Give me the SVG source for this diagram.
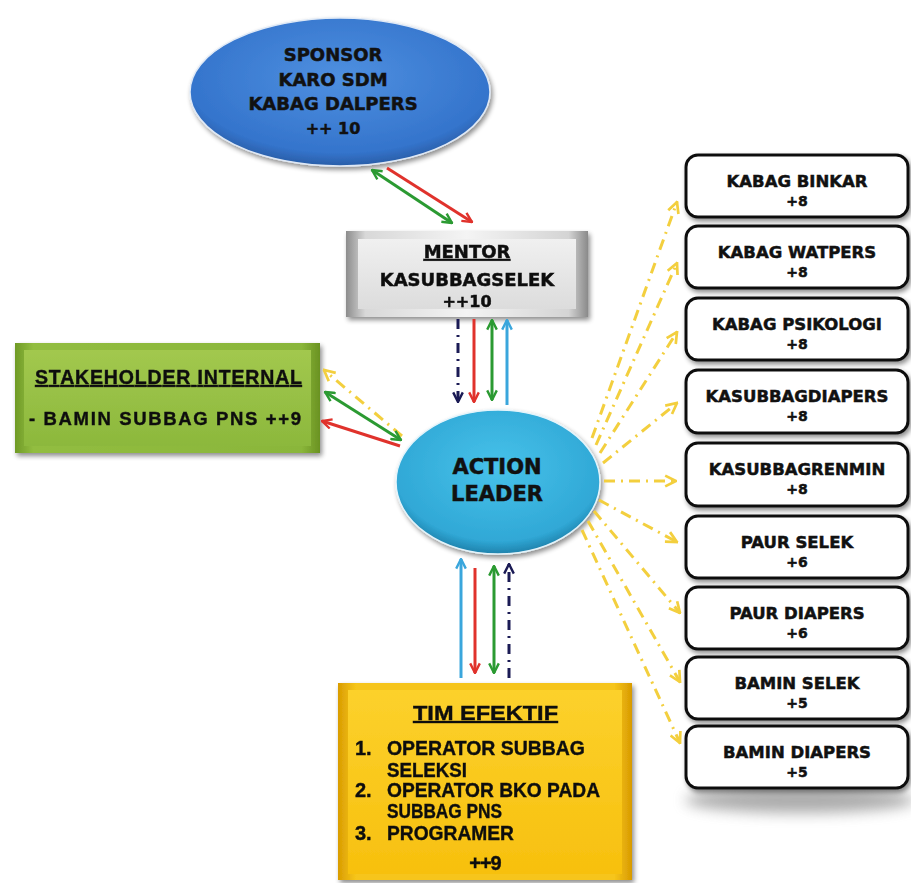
<svg xmlns="http://www.w3.org/2000/svg" width="911" height="883" viewBox="0 0 911 883">
<style>
.dv{font-family:"DejaVu Sans","Verdana",sans-serif;font-weight:bold;fill:#111;text-anchor:middle;stroke:#111;stroke-width:0.5}
.ar{font-family:"Liberation Sans","Arial",sans-serif;font-weight:bold;fill:#111;stroke:#111;stroke-width:0.4}
.rbox{fill:#fff;stroke:#111;stroke-width:3}
.c{fill:none;stroke-width:3}
.red{stroke:#e0322c}
.grn{stroke:#2b9a32}
.cyn{stroke:#3aa6dc}
.nav{stroke:#1b1b55;stroke-dasharray:10 6 2 6}
.yel{stroke:#f3cf3e;stroke-dasharray:11 6 2 6}
</style>
<defs>
<radialGradient id="gSp" cx="0.5" cy="0.4" r="0.6">
<stop offset="0" stop-color="#4f90e0"/><stop offset="0.85" stop-color="#3474cc"/><stop offset="1" stop-color="#2a5ea8"/>
</radialGradient>
<radialGradient id="gAl" cx="0.5" cy="0.4" r="0.6">
<stop offset="0" stop-color="#47c2ea"/><stop offset="0.85" stop-color="#30a8d6"/><stop offset="1" stop-color="#1f82ac"/>
</radialGradient>
<linearGradient id="gMo" x1="0" y1="0" x2="1" y2="0">
<stop offset="0" stop-color="#8c8c8c"/><stop offset="0.08" stop-color="#d8d8d8"/><stop offset="0.5" stop-color="#f4f4f4"/><stop offset="0.92" stop-color="#d4d4d4"/><stop offset="1" stop-color="#8a8a8a"/>
</linearGradient>
<linearGradient id="gMi" x1="0" y1="0" x2="0" y2="1">
<stop offset="0" stop-color="#f0f0f0"/><stop offset="1" stop-color="#dcdcdc"/>
</linearGradient>
<linearGradient id="gSo" x1="0" y1="0" x2="1" y2="0">
<stop offset="0" stop-color="#6f9a26"/><stop offset="0.06" stop-color="#92bd40"/><stop offset="0.94" stop-color="#8ab63a"/><stop offset="1" stop-color="#6a9222"/>
</linearGradient>
<linearGradient id="gSi" x1="0" y1="0" x2="0" y2="1">
<stop offset="0" stop-color="#a2c84e"/><stop offset="1" stop-color="#8cb83c"/>
</linearGradient>
<linearGradient id="gTo" x1="0" y1="0" x2="1" y2="0">
<stop offset="0" stop-color="#d99c00"/><stop offset="0.06" stop-color="#f6c51a"/><stop offset="0.94" stop-color="#f6c51a"/><stop offset="1" stop-color="#d89a00"/>
</linearGradient>
<linearGradient id="gTi" x1="0" y1="0" x2="0" y2="1">
<stop offset="0" stop-color="#fcd12c"/><stop offset="1" stop-color="#f7c00e"/>
</linearGradient>
<filter id="sh" x="-10%" y="-10%" width="125%" height="130%">
<feGaussianBlur in="SourceAlpha" stdDeviation="2.5"/><feOffset dx="2" dy="3" result="b"/>
<feComponentTransfer><feFuncA type="linear" slope="0.45"/></feComponentTransfer>
<feMerge><feMergeNode/><feMergeNode in="SourceGraphic"/></feMerge>
</filter>
<filter id="blur" x="-30%" y="-200%" width="160%" height="500%"><feGaussianBlur stdDeviation="7"/></filter>
<marker id="mR" viewBox="0 0 10 10" refX="9" refY="5" markerWidth="4" markerHeight="4" orient="auto-start-reverse" markerUnits="strokeWidth"><path d="M1,1 L9,5 L1,9" fill="none" stroke="#e0322c" stroke-width="2"/></marker>
<marker id="mG" viewBox="0 0 10 10" refX="9" refY="5" markerWidth="4" markerHeight="4" orient="auto-start-reverse" markerUnits="strokeWidth"><path d="M1,1 L9,5 L1,9" fill="none" stroke="#2b9a32" stroke-width="2"/></marker>
<marker id="mC" viewBox="0 0 10 10" refX="9" refY="5" markerWidth="4" markerHeight="4" orient="auto-start-reverse" markerUnits="strokeWidth"><path d="M1,1 L9,5 L1,9" fill="none" stroke="#3aa6dc" stroke-width="2"/></marker>
<marker id="mN" viewBox="0 0 10 10" refX="9" refY="5" markerWidth="4" markerHeight="4" orient="auto-start-reverse" markerUnits="strokeWidth"><path d="M1,1 L9,5 L1,9" fill="none" stroke="#1b1b55" stroke-width="2"/></marker>
<marker id="mY" viewBox="0 0 10 10" refX="9" refY="5" markerWidth="4.5" markerHeight="4.5" orient="auto-start-reverse" markerUnits="strokeWidth"><path d="M1,1 L9,5 L1,9" fill="none" stroke="#f3cf3e" stroke-width="2"/></marker>
</defs>
<rect width="911" height="883" fill="#fff"/>

<g id="sponsor">
<ellipse cx="340" cy="92" rx="150" ry="74" fill="url(#gSp)" stroke="#dfe9f6" stroke-width="1.5" filter="url(#sh)"/>
<text class="dv" x="333" y="61" font-size="18">SPONSOR</text>
<text class="dv" x="333" y="86" font-size="18">KARO SDM</text>
<text class="dv" x="333" y="110" font-size="18">KABAG DALPERS</text>
<text class="dv" x="333" y="134" font-size="16">++ 10</text>
</g>

<g id="mentor" filter="url(#sh)">
<rect x="346" y="231" width="242" height="86" fill="url(#gMo)"/>
<rect x="358" y="239" width="218" height="70" fill="url(#gMi)"/>
<text class="dv" x="467" y="258" font-size="18" text-decoration="underline">MENTOR</text>
<text class="dv" x="467" y="286" font-size="18">KASUBBAGSELEK</text>
<text class="dv" x="467" y="307" font-size="16">++10</text>
</g>

<g id="stakeholder" filter="url(#sh)">
<rect x="15" y="343" width="305" height="110" fill="url(#gSo)"/>
<rect x="24" y="350" width="287" height="96" fill="url(#gSi)"/>
<text class="ar" x="35" y="384" font-size="19.5" text-decoration="underline" textLength="267">STAKEHOLDER INTERNAL</text>
<text class="ar" x="29" y="425" font-size="18.5" textLength="272">- BAMIN SUBBAG PNS ++9</text>
</g>

<g id="action-leader">
<ellipse cx="498" cy="482" rx="102" ry="72" fill="url(#gAl)" stroke="#e4f4fb" stroke-width="1.5" filter="url(#sh)"/>
<text class="dv" x="497" y="474" font-size="21">ACTION</text>
<text class="dv" x="497" y="501" font-size="21">LEADER</text>
</g>

<g id="tim-efektif" filter="url(#sh)">
<rect x="338" y="683" width="294" height="197" fill="url(#gTo)"/>
<rect x="348" y="690" width="274" height="184" fill="url(#gTi)"/>
<text class="ar" x="413" y="720" font-size="20" text-decoration="underline" textLength="145" lengthAdjust="spacingAndGlyphs">TIM EFEKTIF</text>
<text class="ar" x="355" y="755" font-size="20">1.</text>
<text class="ar" x="387" y="755" font-size="20" textLength="198" lengthAdjust="spacingAndGlyphs">OPERATOR SUBBAG</text>
<text class="ar" x="387" y="777" font-size="20" textLength="80" lengthAdjust="spacingAndGlyphs">SELEKSI</text>
<text class="ar" x="355" y="797" font-size="20">2.</text>
<text class="ar" x="387" y="797" font-size="20" textLength="213" lengthAdjust="spacingAndGlyphs">OPERATOR BKO PADA</text>
<text class="ar" x="387" y="818" font-size="20" textLength="115" lengthAdjust="spacingAndGlyphs">SUBBAG PNS</text>
<text class="ar" x="355" y="840" font-size="20">3.</text>
<text class="ar" x="387" y="840" font-size="20" textLength="127" lengthAdjust="spacingAndGlyphs">PROGRAMER</text>
<text class="ar" x="485" y="870" font-size="20" text-anchor="middle" letter-spacing="-1">++9</text>
</g>

<ellipse cx="800" cy="800" rx="115" ry="13" fill="#808080" opacity="0.65" filter="url(#blur)"/>

<g id="kabag-binkar"><rect class="rbox" x="686" y="155" width="222" height="62" rx="12" filter="url(#sh)"/><text class="dv" x="797" y="187" font-size="16.5">KABAG BINKAR</text><text class="dv" x="797" y="206" font-size="14">+8</text></g>
<g id="kabag-watpers"><rect class="rbox" x="686" y="226" width="222" height="62" rx="12" filter="url(#sh)"/><text class="dv" x="797" y="258" font-size="16.5">KABAG WATPERS</text><text class="dv" x="797" y="277" font-size="14">+8</text></g>
<g id="kabag-psikologi"><rect class="rbox" x="686" y="298" width="222" height="62" rx="12" filter="url(#sh)"/><text class="dv" x="797" y="330" font-size="16.5">KABAG PSIKOLOGI</text><text class="dv" x="797" y="349" font-size="14">+8</text></g>
<g id="kasubbagdiapers"><rect class="rbox" x="686" y="370" width="222" height="63" rx="12" filter="url(#sh)"/><text class="dv" x="797" y="402" font-size="16.5">KASUBBAGDIAPERS</text><text class="dv" x="797" y="421" font-size="14">+8</text></g>
<g id="kasubbagrenmin"><rect class="rbox" x="686" y="443" width="222" height="63" rx="12" filter="url(#sh)"/><text class="dv" x="797" y="475" font-size="16.5">KASUBBAGRENMIN</text><text class="dv" x="797" y="494" font-size="14">+8</text></g>
<g id="paur-selek"><rect class="rbox" x="686" y="516" width="222" height="62" rx="12" filter="url(#sh)"/><text class="dv" x="797" y="548" font-size="16.5">PAUR SELEK</text><text class="dv" x="797" y="567" font-size="14">+6</text></g>
<g id="paur-diapers"><rect class="rbox" x="686" y="587" width="222" height="62" rx="12" filter="url(#sh)"/><text class="dv" x="797" y="619" font-size="16.5">PAUR DIAPERS</text><text class="dv" x="797" y="638" font-size="14">+6</text></g>
<g id="bamin-selek"><rect class="rbox" x="686" y="657" width="222" height="62" rx="12" filter="url(#sh)"/><text class="dv" x="797" y="689" font-size="16.5">BAMIN SELEK</text><text class="dv" x="797" y="708" font-size="14">+5</text></g>
<g id="bamin-diapers"><rect class="rbox" x="686" y="726" width="222" height="62" rx="12" filter="url(#sh)"/><text class="dv" x="797" y="758" font-size="16.5">BAMIN DIAPERS</text><text class="dv" x="797" y="777" font-size="14">+5</text></g>

<g id="connectors">
<line class="c grn" x1="372" y1="170" x2="452" y2="223" marker-start="url(#mG)" marker-end="url(#mG)"/>
<line class="c red" x1="387" y1="168" x2="472" y2="222" marker-end="url(#mR)"/>

<line class="c nav" x1="458" y1="319" x2="458" y2="402" marker-end="url(#mN)"/>
<line class="c red" x1="474" y1="319" x2="474" y2="402" marker-end="url(#mR)"/>
<line class="c grn" x1="492" y1="320" x2="492" y2="400" marker-start="url(#mG)" marker-end="url(#mG)"/>
<line class="c cyn" x1="507" y1="405" x2="507" y2="320" marker-end="url(#mC)"/>

<line class="c cyn" x1="461" y1="678" x2="461" y2="559" marker-end="url(#mC)"/>
<line class="c red" x1="475" y1="568" x2="475" y2="673" marker-end="url(#mR)"/>
<line class="c grn" x1="494" y1="566" x2="494" y2="673" marker-start="url(#mG)" marker-end="url(#mG)"/>
<line class="c nav" x1="509" y1="678" x2="509" y2="564" marker-end="url(#mN)"/>

<line class="c yel" x1="402" y1="436" x2="324" y2="370" marker-end="url(#mY)"/>
<line class="c grn" x1="401" y1="440" x2="325" y2="392" marker-start="url(#mG)" marker-end="url(#mG)"/>
<line class="c red" x1="400" y1="446" x2="322" y2="421" marker-end="url(#mR)"/>

<line class="c yel" x1="592" y1="438" x2="677" y2="202" marker-end="url(#mY)"/>
<line class="c yel" x1="596" y1="445" x2="677" y2="263" marker-end="url(#mY)"/>
<line class="c yel" x1="600" y1="453" x2="677" y2="332" marker-end="url(#mY)"/>
<line class="c yel" x1="603" y1="463" x2="677" y2="403" marker-end="url(#mY)"/>
<line class="c yel" x1="604" y1="481" x2="676" y2="481" marker-end="url(#mY)"/>
<line class="c yel" x1="599" y1="500" x2="677" y2="542" marker-end="url(#mY)"/>
<line class="c yel" x1="594" y1="511" x2="680" y2="613" marker-end="url(#mY)"/>
<line class="c yel" x1="588" y1="521" x2="680" y2="682" marker-end="url(#mY)"/>
<line class="c yel" x1="582" y1="530" x2="680" y2="743" marker-end="url(#mY)"/>
</g>
</svg>
